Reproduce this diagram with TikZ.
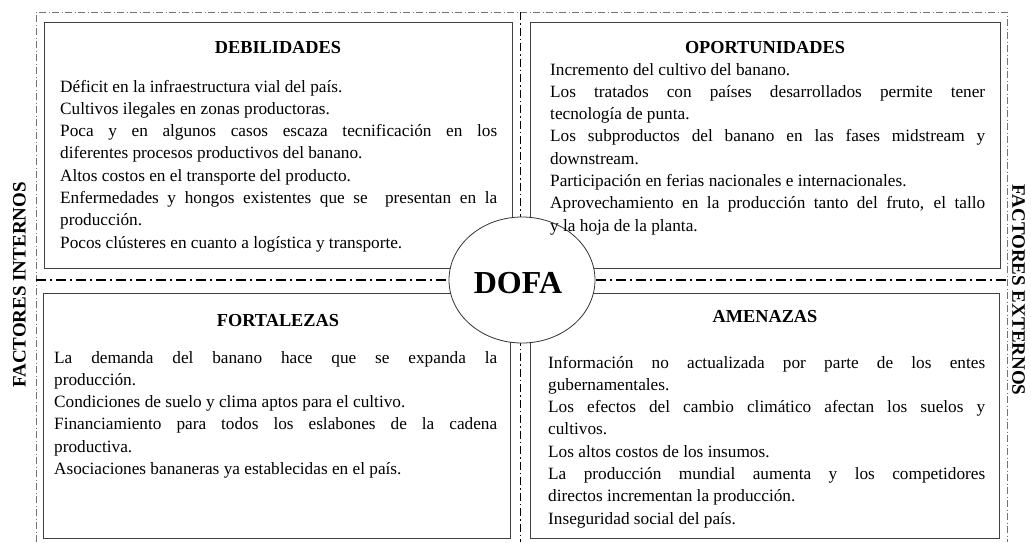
\documentclass[tikz,border=0pt]{standalone}
\usepackage{fontspec}
\setmainfont{Liberation Serif}
\usetikzlibrary{shapes.geometric}
\begin{document}
\begin{tikzpicture}[x=1pt,y=-1pt,
  frame/.style={draw=black!55, line width=0.6pt, dash pattern=on 7pt off 2.5pt on 1pt off 2.5pt},
  midh/.style={draw=black, line width=1.6pt, dash pattern=on 10pt off 4pt on 2pt off 4pt},
  midv/.style={draw=black, line width=0.9pt, dash pattern=on 8pt off 3pt on 1.5pt off 3pt},
  box/.style={draw=black!75, line width=0.9pt, fill=white, inner sep=0pt},
  title/.style={font=\fontsize{18.3}{20}\selectfont\bfseries, anchor=base, inner sep=0pt},
  body/.style={font={\fontsize{17.25}{22.3}\selectfont\parindent=0pt\tolerance=10000\hbadness=10000},
    anchor=base west, inner sep=0pt, align=justify},
  side/.style={font=\fontsize{19}{21}\selectfont\bfseries, inner sep=0pt}]

\useasboundingbox (0,0) rectangle (1031,542);

% frame and axes
\coordinate (fbl) at (36,542);
\coordinate (ftl) at (36,12);
\coordinate (ftr) at (1007,12);
\coordinate (fbr) at (1007,542);
\draw[frame] (fbl) -- (ftl) -- (ftr) -- (fbr);
\coordinate (vt) at (520,12);
\coordinate (vb) at (520,542);
\draw[midv] (vt) -- (vb);
\coordinate (hl) at (36,280);
\coordinate (hr) at (1007,280);
\draw[midh] (hl) -- (hr);

% boxes
\node[box, minimum width=468pt, minimum height=246pt] (deb) at (278,145) {};
\node[box, minimum width=470pt, minimum height=246pt] (opo) at (765,145) {};
\node[box, minimum width=467pt, minimum height=245pt] (fort) at (276.5,415.5) {};
\node[box, minimum width=469pt, minimum height=245pt] (ame) at (764.5,415.5) {};

% centre ellipse
\node[draw=black!80, line width=0.8pt, fill=white, ellipse, minimum width=146pt, minimum height=126pt, inner sep=0pt] (dofa) at (522,280) {};
\node[font=\fontsize{32}{36}\selectfont\bfseries, inner sep=0pt] (dofat) at (518,283) {DOFA};

% titles
\node[title] (tdeb) at (278,53) {DEBILIDADES};
\node[title] (topo) at (765,53) {OPORTUNIDADES};
\node[title] (tfor) at (278,326) {FORTALEZAS};
\node[title] (tame) at (765,322) {AMENAZAS};

% body texts
\node[body, text width=437pt] (bdeb) at (60,92) {%
Déficit en la infraestructura vial del país.\par
Cultivos ilegales en zonas productoras.\par
Poca y en algunos casos escaza tecnificación en los\linebreak diferentes procesos productivos del banano.\par
Altos costos en el transporte del producto.\par
Enfermedades y hongos existentes que se\ \ presentan en la\linebreak producción.\par
Pocos clústeres en cuanto a logística y transporte.};

\node[body, text width=435pt] (bopo) at (550,75) {%
Incremento del cultivo del banano.\par
Los tratados con países desarrollados permite tener\linebreak tecnología de punta.\par
Los subproductos del banano en las fases midstream y\linebreak downstream.\par
Participación en ferias nacionales e internacionales.\par
Aprovechamiento en la producción tanto del fruto, el tallo\linebreak y la hoja de la planta.};

\node[body, text width=443pt] (bfor) at (54,363) {%
La demanda del banano hace que se expanda la\linebreak producción.\par
Condiciones de suelo y clima aptos para el cultivo.\par
Financiamiento para todos los eslabones de la cadena\linebreak productiva.\par
Asociaciones bananeras ya establecidas en el país.};

\node[body, text width=437pt] (bame) at (548,368) {%
Información no actualizada por parte de los entes\linebreak gubernamentales.\par
Los efectos del cambio climático afectan los suelos y\linebreak cultivos.\par
Los altos costos de los insumos.\par
La producción mundial aumenta y los competidores\linebreak directos incrementan la producción.\par
Inseguridad social del país.};

% side labels
\node[side, rotate=90] (fint) at (19.5,285) {FACTORES INTERNOS};
\node[side, rotate=-90] (fext) at (1018.5,290) {FACTORES EXTERNOS};
\end{tikzpicture}
\end{document}
